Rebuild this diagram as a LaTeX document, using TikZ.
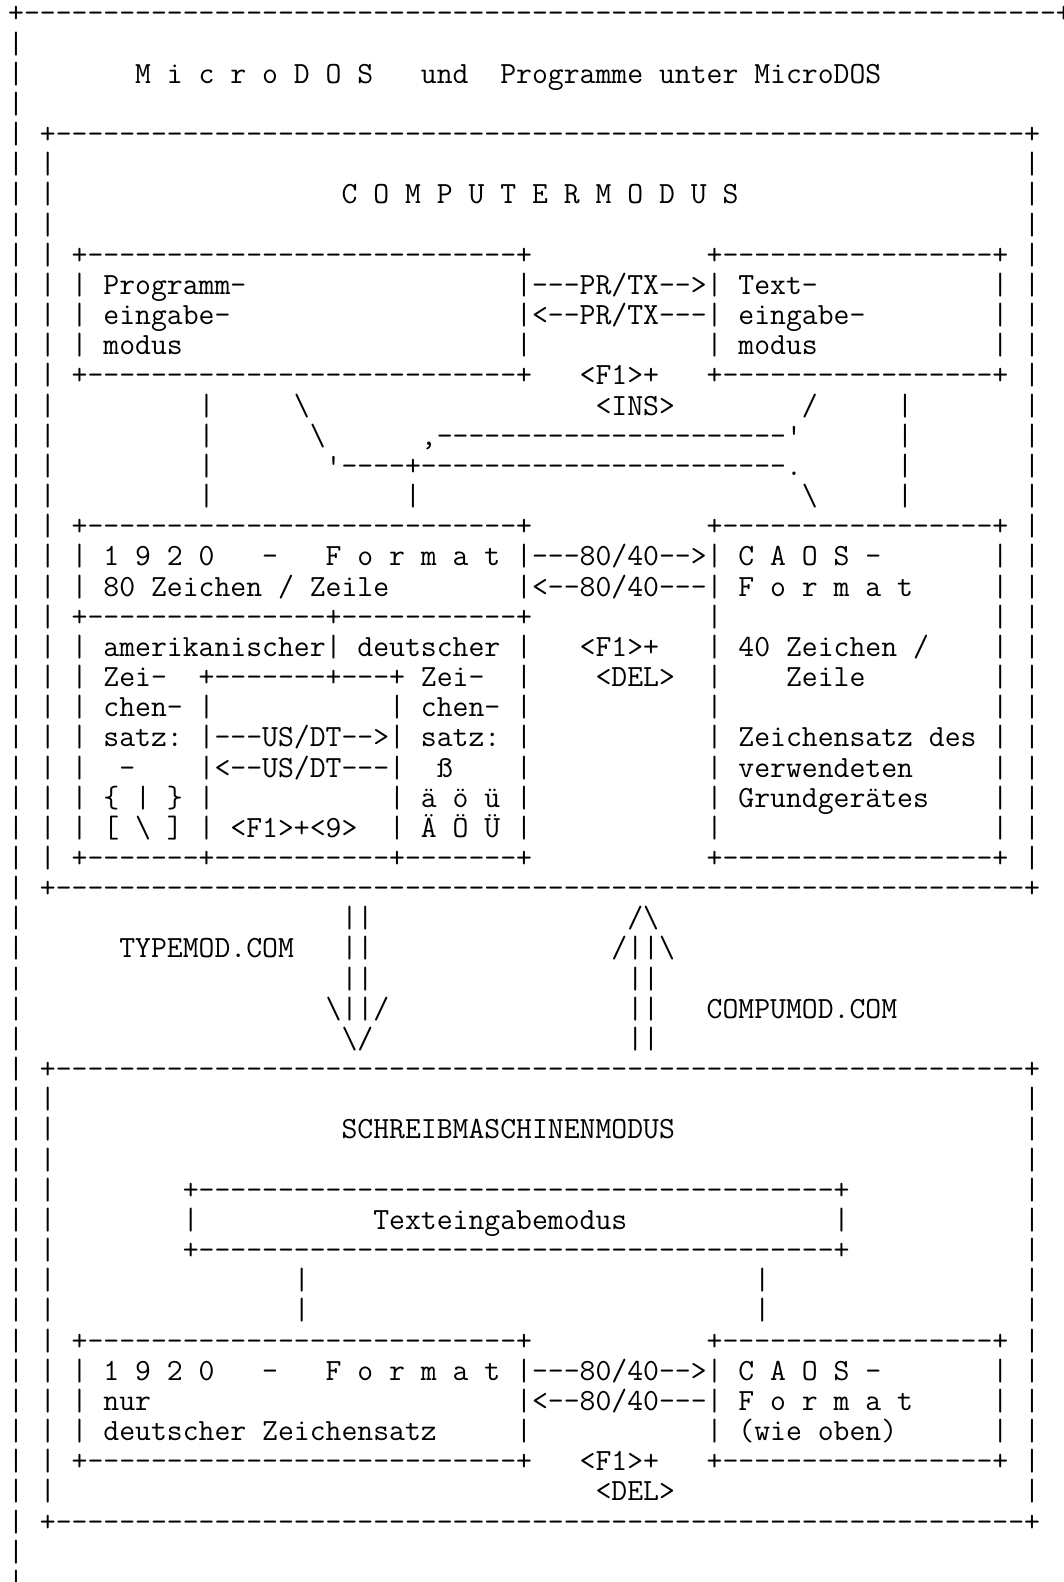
\documentclass[tikz,border=0pt]{standalone}
\usepackage{fontspec}
\newlength\cwd
\newcommand\rep[2]{\foreach\repi in {1,...,#1}{#2}}
\newcommand\hb[1]{+\rep{#1}{-}+}
\newcommand\seg[3]{\node[txt] (r#1c#2) at ({8.2+(#2)*15.875},{-23-(#1)*30.16}) {#3};}
\begin{document}
\settowidth{\cwd}{\ttfamily\fontsize{30pt}{30pt}\selectfont xxxxxxxxxx}%
\pgfmathsetmacro\fsz{300*15.875/\cwd}%
\begin{tikzpicture}[x=1pt,y=1pt,
  txt/.style={anchor=base west,inner sep=0pt,outer sep=0pt,
    font=\ttfamily\fontsize{\fsz pt}{30pt}\selectfont\frenchspacing,text=black}]
\useasboundingbox (0,0) rectangle (1064,-1582);
\fill[white] (0,0) rectangle (1064,-1582);
\clip (0,0) rectangle (1064,-1582);
% outer frame and mode boxes: vertical bars
\foreach \rw in {1,...,52} {\seg{\rw}{0}{|}}
\foreach \rw in {5,...,28,36,37,...,49} {\seg{\rw}{2}{|} \seg{\rw}{64}{|}}
% rows 0-7
\seg{0}{0}{\hb{65}}
\seg{2}{8}{M i c r o D O S}
\seg{2}{26}{und}
\seg{2}{31}{Programme unter MicroDOS}
\seg{4}{2}{\hb{61}}
\seg{6}{21}{C O M P U T E R M O D U S}
% rows 8-12
\seg{8}{4}{\hb{27}} \seg{8}{44}{\hb{17}}
\seg{9}{4}{|} \seg{9}{6}{Programm-} \seg{9}{32}{|---PR/TX-->|} \seg{9}{46}{Text-} \seg{9}{62}{|}
\seg{10}{4}{|} \seg{10}{6}{eingabe-} \seg{10}{32}{|<--PR/TX---|} \seg{10}{46}{eingabe-} \seg{10}{62}{|}
\seg{11}{4}{|} \seg{11}{6}{modus} \seg{11}{32}{|} \seg{11}{44}{|} \seg{11}{46}{modus} \seg{11}{62}{|}
\seg{12}{4}{\hb{27}} \seg{12}{36}{<F1>+} \seg{12}{44}{\hb{17}}
% rows 13-16
\seg{13}{12}{|} \seg{13}{18}{\textbackslash} \seg{13}{37}{<INS>} \seg{13}{50}{/} \seg{13}{56}{|}
\seg{14}{12}{|} \seg{14}{19}{\textbackslash} \seg{14}{26}{,\rep{22}{-}'} \seg{14}{56}{|}
\seg{15}{12}{|} \seg{15}{20}{'----+\rep{23}{-}.} \seg{15}{56}{|}
\seg{16}{12}{|} \seg{16}{25}{|} \seg{16}{50}{\textbackslash} \seg{16}{56}{|}
% rows 17-28
\seg{17}{4}{\hb{27}} \seg{17}{44}{\hb{17}}
\seg{18}{4}{|} \seg{18}{6}{1 9 2 0} \seg{18}{16}{-} \seg{18}{20}{F o r m a t} \seg{18}{32}{|---80/40-->|} \seg{18}{46}{C A O S -} \seg{18}{62}{|}
\seg{19}{4}{|} \seg{19}{6}{80 Zeichen / Zeile} \seg{19}{32}{|<--80/40---|} \seg{19}{46}{F o r m a t} \seg{19}{62}{|}
\seg{20}{4}{+\rep{15}{-}+\rep{11}{-}+} \seg{20}{44}{|} \seg{20}{62}{|}
\seg{21}{4}{| amerikanischer| deutscher |} \seg{21}{36}{<F1>+} \seg{21}{44}{|} \seg{21}{46}{40 Zeichen /} \seg{21}{62}{|}
\seg{22}{4}{|} \seg{22}{6}{Zei-} \seg{22}{12}{+\rep{7}{-}+---+} \seg{22}{26}{Zei-} \seg{22}{32}{|} \seg{22}{37}{<DEL>} \seg{22}{44}{|} \seg{22}{49}{Zeile} \seg{22}{62}{|}
\seg{23}{4}{| chen- |} \seg{23}{24}{| chen- |} \seg{23}{44}{|} \seg{23}{62}{|}
\seg{24}{4}{| satz: |---US/DT-->| satz: |} \seg{24}{44}{|} \seg{24}{46}{Zeichensatz des} \seg{24}{62}{|}
\seg{25}{4}{|} \seg{25}{7}{-} \seg{25}{12}{|<--US/DT---|} \seg{25}{27}{ß} \seg{25}{32}{|} \seg{25}{44}{|} \seg{25}{46}{verwendeten} \seg{25}{62}{|}
\seg{26}{4}{| \{ | \} |} \seg{26}{24}{| ä ö ü |} \seg{26}{44}{|} \seg{26}{46}{Grundgerätes} \seg{26}{62}{|}
\seg{27}{4}{| [ \textbackslash{} ] | <F1>+<9>} \seg{27}{24}{| Ä Ö Ü |} \seg{27}{44}{|} \seg{27}{62}{|}
\seg{28}{4}{+\rep{7}{-}+\rep{11}{-}+\rep{7}{-}+} \seg{28}{44}{\hb{17}}
\seg{29}{2}{\hb{61}}
% rows 30-34: program arrows
\seg{30}{21}{||} \seg{30}{39}{/\textbackslash}
\seg{31}{7}{TYPEMOD.COM} \seg{31}{21}{||} \seg{31}{38}{/||\textbackslash}
\seg{32}{21}{||} \seg{32}{39}{||}
\seg{33}{20}{\textbackslash||/} \seg{33}{39}{||} \seg{33}{44}{COMPUMOD.COM}
\seg{34}{21}{\textbackslash/} \seg{34}{39}{||}
% rows 35-50: Schreibmaschinenmodus
\seg{35}{2}{\hb{61}}
\seg{37}{21}{SCHREIBMASCHINENMODUS}
\seg{39}{11}{\hb{40}}
\seg{40}{11}{|} \seg{40}{23}{Texteingabemodus} \seg{40}{52}{|}
\seg{41}{11}{\hb{40}}
\seg{42}{18}{|} \seg{42}{47}{|}
\seg{43}{18}{|} \seg{43}{47}{|}
\seg{44}{4}{\hb{27}} \seg{44}{44}{\hb{17}}
\seg{45}{4}{|} \seg{45}{6}{1 9 2 0} \seg{45}{16}{-} \seg{45}{20}{F o r m a t} \seg{45}{32}{|---80/40-->|} \seg{45}{46}{C A O S -} \seg{45}{62}{|}
\seg{46}{4}{|} \seg{46}{6}{nur} \seg{46}{32}{|<--80/40---|} \seg{46}{46}{F o r m a t} \seg{46}{62}{|}
\seg{47}{4}{|} \seg{47}{6}{deutscher Zeichensatz} \seg{47}{32}{|} \seg{47}{44}{|} \seg{47}{46}{(wie oben)} \seg{47}{62}{|}
\seg{48}{4}{\hb{27}} \seg{48}{36}{<F1>+} \seg{48}{44}{\hb{17}}
\seg{49}{37}{<DEL>}
\seg{50}{2}{\hb{61}}
\end{tikzpicture}
\end{document}
